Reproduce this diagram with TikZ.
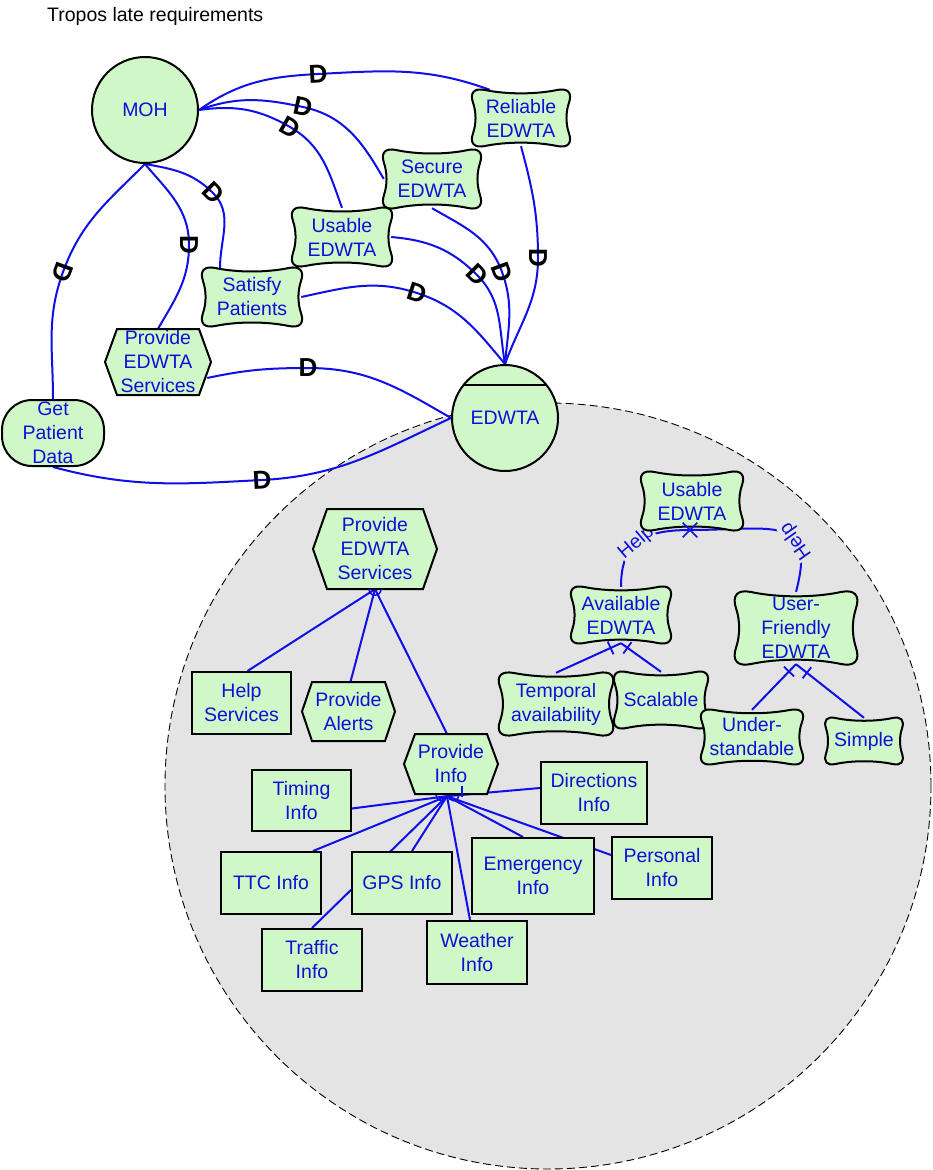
\documentclass[tikz,border=0pt]{standalone}
\usepackage{fontspec}
\setmainfont{Liberation Sans}
\usetikzlibrary{calc,shapes.misc}
\definecolor{textblue}{RGB}{15,15,215}
\definecolor{linkblue}{RGB}{15,15,232}
\definecolor{goalgreen}{RGB}{207,247,199}
\definecolor{bggray}{RGB}{228,228,228}
\pgfdeclarelayer{back}
\pgfdeclarelayer{links}
\pgfsetlayers{back,links,main}
\tikzset{
  txt/.style={font=\fontsize{19.5}{24}\selectfont, text=textblue, align=center, inner sep=0pt},
  shapeline/.style={draw=black, line width=2pt, fill=goalgreen},
  actor/.style={circle, shapeline, minimum size=106pt, txt},
  resource/.style={rectangle, shapeline, txt},
  goalbox/.style={rectangle, rounded corners=30pt, shapeline, txt},
  link/.style={draw=linkblue, line width=2pt},
  dmark/.style={font=\fontsize{26}{26}\selectfont\bfseries, text=black, inner sep=0pt},
  helplbl/.style={txt, sloped, allow upside down, fill=bggray, inner sep=0.5pt},
  andtick/.style={rectangle, sloped, draw=linkblue, line width=1.8pt, minimum width=0pt, minimum height=14pt, inner sep=0pt},
  orarc/.style={draw=linkblue, line width=1.5pt},
}
\newcommand{\softgoal}[6]{%
  \path[shapeline, shift={(#2,#3)}] (-0.75*#4,#5)
    .. controls (-0.3*#4,0.84*#5) and (0.3*#4,0.84*#5) .. (0.75*#4,#5)
    .. controls (0.98*#4,1.08*#5) and (1.07*#4,0.9*#5) .. (#4,0.55*#5)
    .. controls (0.93*#4,0.2*#5) and (0.93*#4,-0.2*#5) .. (#4,-0.55*#5)
    .. controls (1.07*#4,-0.9*#5) and (0.98*#4,-1.08*#5) .. (0.75*#4,-#5)
    .. controls (0.3*#4,-0.84*#5) and (-0.3*#4,-0.84*#5) .. (-0.75*#4,-#5)
    .. controls (-0.98*#4,-1.08*#5) and (-1.07*#4,-0.9*#5) .. (-#4,-0.55*#5)
    .. controls (-0.93*#4,-0.2*#5) and (-0.93*#4,0.2*#5) .. (-#4,0.55*#5)
    .. controls (-1.07*#4,0.9*#5) and (-0.98*#4,1.08*#5) .. cycle;
  \node[txt, minimum width={2*#4}, minimum height={2*#5}] (#1) at (#2,#3) {#6};
}
\newcommand{\taskhex}[7]{%
  \path[shapeline, shift={(#2,#3)}] (-#4,0) -- (-#4+#6,#5) -- (#4-#6,#5) -- (#4,0) -- (#4-#6,-#5) -- (-#4+#6,-#5) -- cycle;
  \node[txt, minimum width={2*#4}, minimum height={2*#5}] (#1) at (#2,#3) {#7};
}
\begin{document}
\begin{tikzpicture}[x=1pt,y=1pt]
\useasboundingbox (0,0) rectangle (932,-1170);
\begin{pgfonlayer}{back}
  \fill[white] (0,0) rectangle (932,-1170);
  \path[fill=bggray, draw=black, dash pattern=on 8pt off 4pt, line width=0.9pt] (548,-786) circle[radius=383];
\end{pgfonlayer}

\node[font=\fontsize{19.5}{24}\selectfont, anchor=base west, inner sep=0pt] (title) at (47,-21) {Tropos late requirements};

% actors
\node[actor] (moh) at (145,-110) {MOH};
\node[actor] (edw) at (505,-418) {EDWTA};
\draw[line width=2pt] ($(edw.center)+(-41.5,33)$) -- ($(edw.center)+(41.5,33)$);

% top elements
\softgoal{rel}{521}{-118}{48}{28}{Reliable\\EDWTA}
\softgoal{sec}{432}{-179}{48}{29}{Secure\\EDWTA}
\softgoal{usa}{342}{-237}{49}{29}{Usable\\EDWTA}
\softgoal{sat}{252}{-297}{49}{29}{Satisfy\\Patients}
\taskhex{pesa}{158}{-362}{53}{33}{12}{Provide\\EDWTA\\Services}
\node[goalbox, minimum width=102, minimum height=66] (gpd) at (53,-433) {Get\\Patient\\Data};

% inner elements
\softgoal{usb}{692}{-501}{50}{29}{Usable\\EDWTA}
\softgoal{avail}{621}{-615}{49}{28}{Available\\EDWTA}
\softgoal{uf}{796}{-628}{60}{36}{User-\\Friendly\\EDWTA}
\softgoal{temp}{556}{-704}{56}{31}{Temporal\\availability}
\softgoal{scal}{661}{-700}{46}{28}{Scalable}
\softgoal{und}{752}{-737}{50}{27}{Under-\\standable}
\softgoal{simple}{864}{-741}{38}{23}{Simple}

\taskhex{pesb}{375}{-549}{62}{40}{14}{Provide\\EDWTA\\Services}
\node[resource, minimum width=99, minimum height=62] (helps) at (241.5,-703) {Help\\Services};
\taskhex{alerts}{348.5}{-711.5}{46.5}{29.5}{10}{Provide\\Alerts}
\taskhex{pinfo}{451}{-764}{47}{30}{11}{Provide\\Info}
\node[resource, minimum width=99, minimum height=61] (timing) at (301.5,-800.5) {Timing\\Info};
\node[resource, minimum width=106, minimum height=62] (dir) at (594,-793) {Directions\\Info};
\node[resource, minimum width=100, minimum height=62] (ttc) at (271,-883) {TTC Info};
\node[resource, minimum width=100, minimum height=62] (gps) at (402,-883) {GPS Info};
\node[resource, minimum width=122, minimum height=76] (emerg) at (533,-876) {Emergency\\Info};
\node[resource, minimum width=100, minimum height=62] (pers) at (662,-868) {Personal\\Info};
\node[resource, minimum width=100, minimum height=62] (traffic) at (312,-960) {Traffic\\Info};
\node[resource, minimum width=100, minimum height=63] (weather) at (477,-952.5) {Weather\\Info};

% dependency mark positions
\coordinate (d1) at (318,-74);
\coordinate (d1b) at (538,-258);
\coordinate (d2) at (303,-107);
\coordinate (d2b) at (502,-272);
\coordinate (d3) at (290,-127);
\coordinate (d3b) at (477,-275);
\coordinate (d4) at (213,-193);
\coordinate (d4b) at (417,-293);
\coordinate (d5) at (189,-245);
\coordinate (d5b) at (308,-368);
\coordinate (d6) at (63,-272);
\coordinate (d6b) at (262,-480);
\coordinate (hx) at (690,-530);
\coordinate (pj) at ($(pinfo.south)+(-4,-2)$);

\begin{pgfonlayer}{links}
  % dependencies
  \draw[link] (moh.east) to[out=35,in=183] (d1) to[out=3,in=160] ($(rel.north west)+(17,0)$);
  \draw[link] (rel.south) to[out=-75,in=90] (d1b) to[out=-90,in=70] (edw.north);
  \draw[link] (moh.east) to[out=20,in=168] (d2) to[out=-12,in=120] (sec.west);
  \draw[link] (sec.south) to[out=-30,in=110] (d2b) to[out=-70,in=85] (edw.north);
  \draw[link] (moh.east) to[out=8,in=150] (d3) to[out=-30,in=110] (usa.north);
  \draw[link] (usa.east) to[out=-5,in=135] (d3b) to[out=-45,in=100] (edw.north);
  \draw[link] (moh.south) to[out=-10,in=135] (d4) to[out=-45,in=90] ($(sat.north)+(-32,0)$);
  \draw[link] (sat.east) to[out=12,in=162] (d4b) to[out=-18,in=130] (edw.north);
  \draw[link] (moh.south) to[out=-50,in=90] (d5) to[out=-90,in=60] (pesa.north);
  \draw[link] ($(pesa.east)+(-4,-16)$) to[out=12,in=180] (d5b) to[out=0,in=150] (edw.west);
  \draw[link] (moh.south) to[out=-135,in=70] (d6) to[out=-110,in=90] (gpd.north);
  \draw[link] (gpd.south) to[out=-15,in=183] (d6b) to[out=3,in=205] (edw.west);

  % decomposition of Provide EDWTA Services
  \draw[link] (pesb.south) -- ($(helps.north)+(6,0)$);
  \draw[link] (pesb.south) -- ($(alerts.north)+(2,0)$);
  \draw[link] (pesb.south) -- ($(pinfo.north)+(-4,0)$);

  % decomposition of Provide Info
  \draw[link] (pj) -- ($(timing.east)+(0,-8)$);
  \draw[link] (pj) -- ($(ttc.north east)+(-9,0)$);
  \draw[link] (pj) -- ($(gps.north)+(10,0)$);
  \draw[link] (pj) -- (traffic.north);
  \draw[link] (pj) -- ($(weather.north)+(-7,0)$);
  \draw[link] (pj) -- ($(emerg.north)+(-10,0)$);
  \draw[link] (pj) -- ($(pers.west)+(0,13)$);
  \draw[link] (pj) -- ($(dir.west)+(0,5)$);

  % help contributions
  \draw[link] (avail.north) to[out=90,in=180,looseness=1.3] node[helplbl,pos=0.47]{Help} (hx);
  \draw[link] (uf.north) to[out=75,in=0,looseness=1.7] node[helplbl,pos=0.33]{Help} (hx);

  % AND decompositions
  \draw[link] (avail.south) -- node[andtick,pos=0.16]{} (temp.north);
  \draw[link] (avail.south) -- node[andtick,pos=0.16]{} (scal.north);
  \draw[link] (uf.south) -- node[andtick,pos=0.16]{} (und.north);
  \draw[link] (uf.south) -- node[andtick,pos=0.16]{} (simple.north);
\end{pgfonlayer}

% OR marks
\draw[orarc] ($(pesb.south)+(-6,0)$) arc[start angle=180,end angle=360,radius=6];
\draw[orarc] ($(pj)+(-11,1)$) arc[start angle=180,end angle=360,radius=5.5];
\draw[orarc] ($(pj)+(1,1)$) arc[start angle=180,end angle=360,radius=5.5];
\draw[orarc] ($(pj)+(15,10)$) -- ($(pj)+(15,-1)$);

\node[cross out, draw=linkblue, line width=1.6pt, minimum size=13pt, inner sep=0pt] (hxm) at (hx) {};

% D marks
\node[dmark, rotate=3] (m1) at (d1) {D};
\node[dmark, rotate=-90] (m1b) at (d1b) {D};
\node[dmark, rotate=-12] (m2) at (d2) {D};
\node[dmark, rotate=-70] (m2b) at (d2b) {D};
\node[dmark, rotate=-30] (m3) at (d3) {D};
\node[dmark, rotate=-45] (m3b) at (d3b) {D};
\node[dmark, rotate=-45] (m4) at (d4) {D};
\node[dmark, rotate=-18] (m4b) at (d4b) {D};
\node[dmark, rotate=-90] (m5) at (d5) {D};
\node[dmark, rotate=0] (m5b) at (d5b) {D};
\node[dmark, rotate=-110] (m6) at (d6) {D};
\node[dmark, rotate=3] (m6b) at (d6b) {D};
\end{tikzpicture}
\end{document}
